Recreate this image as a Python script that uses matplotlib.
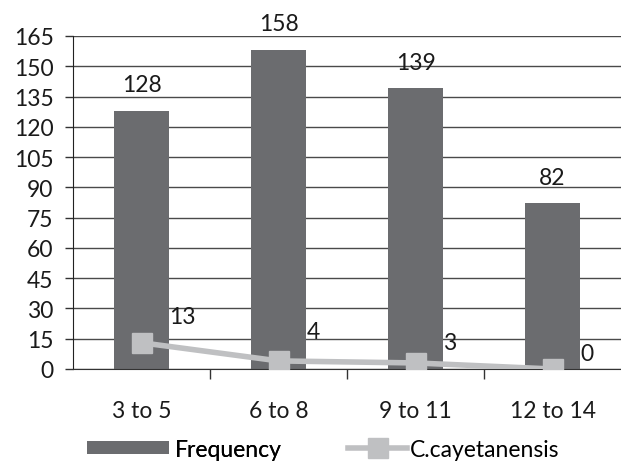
import numpy as np
import matplotlib.pyplot as plt
from matplotlib.lines import Line2D
from matplotlib.patches import Patch

# data
categories = ["3 to 5", "6 to 8", "9 to 11", "12 to 14"]
frequency = [128, 158, 139, 82]
cayetanensis = [13, 4, 3, 0]
yticks = list(range(0, 166, 15))

plt.rcParams.update({
    "font.family": ["Lato", "DejaVu Sans"],
    "font.size": 16.5,
})

bar_color = "#6b6c6f"
line_color = "#bfc0c2"
text_color = "#1a1a1a"

fig = plt.figure(figsize=(6.21, 4.64), dpi=100)
ax = fig.add_axes([0.1176, 0.2026, 0.8824, 0.7177])

x = np.arange(len(categories))

# gridlines
ax.set_axisbelow(True)
ax.grid(axis="y", color="#4a4a4a", linewidth=1.0)

ax.bar(x, frequency, width=0.4, color=bar_color, zorder=2)
ax.plot(x, cayetanensis, color=line_color, linewidth=4, marker="s",
        markersize=14, zorder=3)

# data labels
for xi, v in zip(x, frequency):
    ax.annotate(str(v), (xi, v), xytext=(0, 19), textcoords="offset points",
                ha="center", va="center", color=text_color)
# label lift above the markers (Excel placed them by hand)
line_label_dy = [19, 21, 15, 11]
for xi, v, dy in zip(x, cayetanensis, line_label_dy):
    ax.annotate(str(v), (xi, v), xytext=(20, dy), textcoords="offset points",
                ha="left", va="center", color=text_color)

ax.set_xlim(-0.5, len(categories) - 0.5)
ax.set_ylim(0, 165)
ax.set_yticks(yticks)
ax.set_xticks(x)
ax.set_xticklabels(categories)
ax.set_xticks(np.arange(0.5, len(categories) - 1), minor=True)

ax.tick_params(axis="x", which="major", length=0, pad=22, colors=text_color)
ax.tick_params(axis="x", which="minor", length=7, width=1, color="#333333",
               direction="out")
ax.tick_params(axis="y", length=6, width=1, pad=8, colors=text_color)
ax.tick_params(axis="y", color="#333333")

for s in ["top", "right"]:
    ax.spines[s].set_visible(False)
ax.spines["left"].set_color("#222222")
ax.spines["bottom"].set_color("#333333")

# legend: two entries with different handle lengths, as in the original
leg1 = fig.legend(handles=[Patch(facecolor=bar_color, label="Frequency")],
                  loc="center left", bbox_to_anchor=(0.14, 0.03),
                  frameon=False, handlelength=3.6, handleheight=0.55,
                  handletextpad=0.25, borderaxespad=0, borderpad=0)
fig.add_artist(leg1)
fig.legend(handles=[Line2D([0], [0], color=line_color, linewidth=4,
                           marker="s", markersize=14, label="C.cayetanensis")],
           loc="center left", bbox_to_anchor=(0.56, 0.03),
           frameon=False, handlelength=2.6, handletextpad=0.1,
           borderaxespad=0, borderpad=0)

fig.savefig("out.png", dpi=100)
